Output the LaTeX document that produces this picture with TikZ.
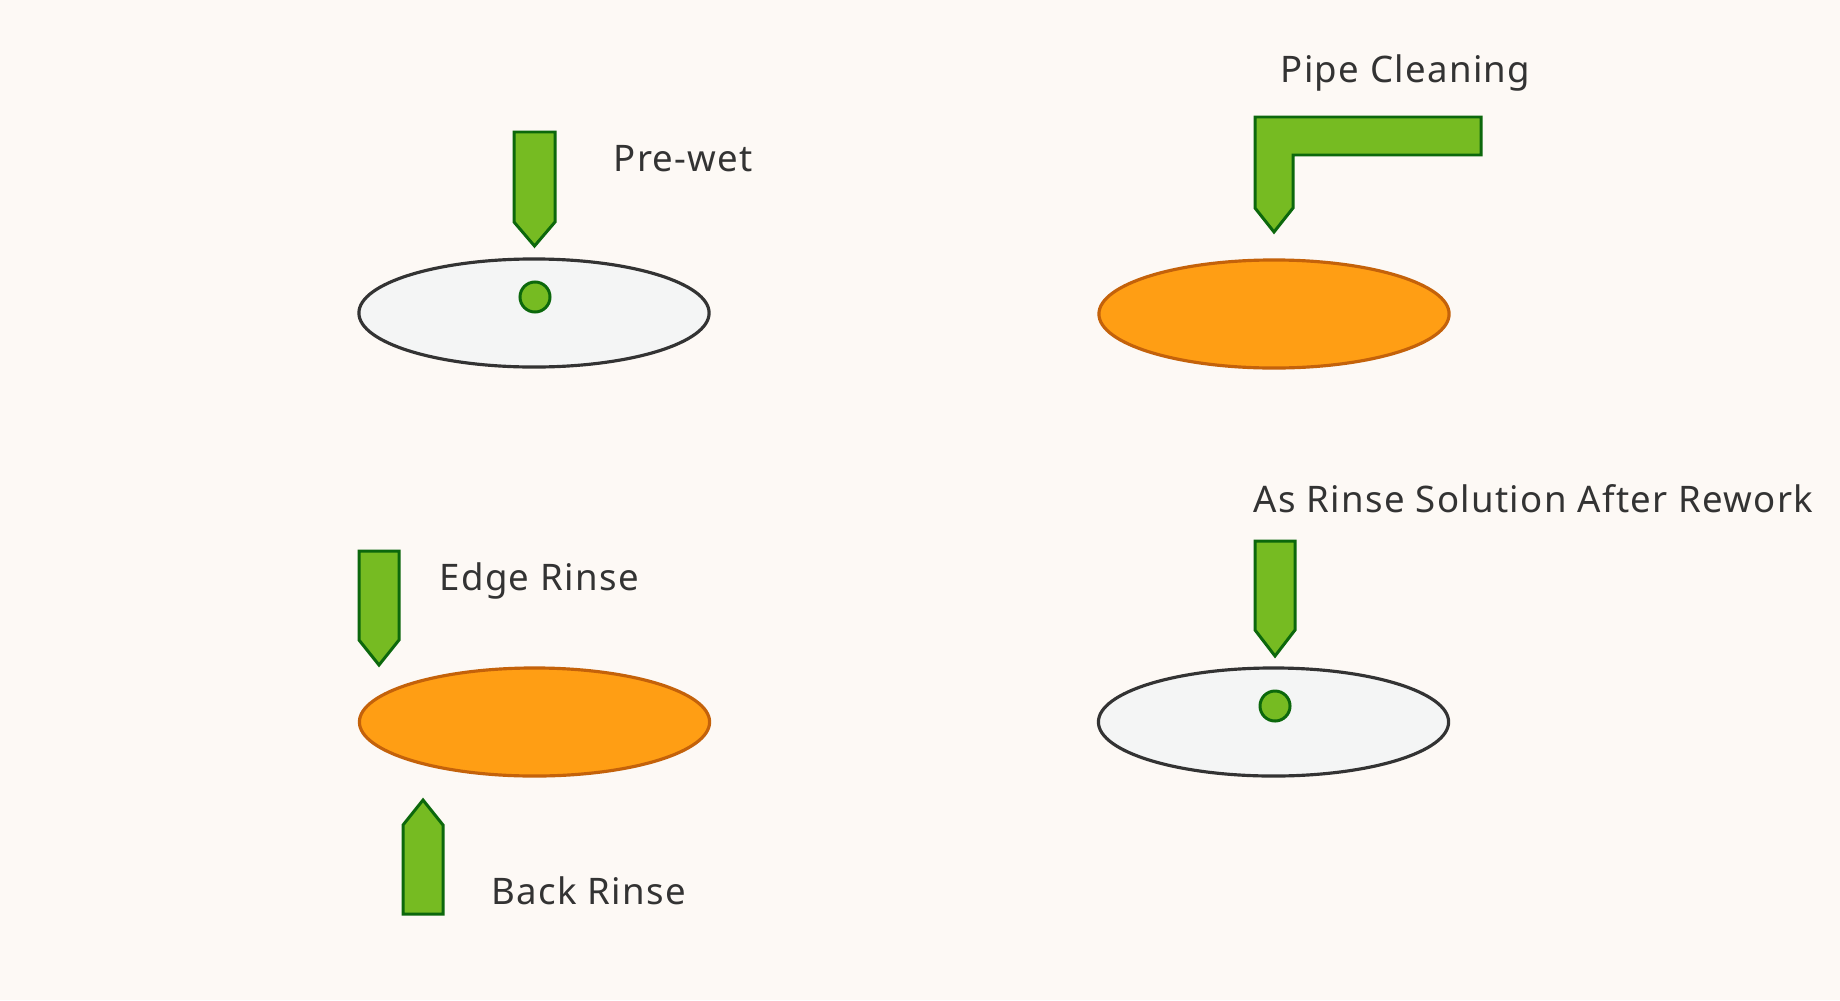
\documentclass[tikz,border=0pt]{standalone}
\usepackage{fontspec}
\setmainfont{Noto Sans}[LetterSpace=3.6]
\usetikzlibrary{shapes.geometric}
\definecolor{bg}{RGB}{253,249,245}
\definecolor{gfill}{RGB}{118,187,34}
\definecolor{gline}{RGB}{12,104,12}
\definecolor{ofill}{RGB}{255,158,20}
\definecolor{oline}{RGB}{196,98,10}
\definecolor{wfill}{RGB}{244,245,245}
\definecolor{wline}{RGB}{51,51,51}
\definecolor{txt}{RGB}{51,51,51}
\tikzset{
  nozzle/.style={fill=gfill,draw=gline,line width=0.85pt,line join=miter},
  wafergray/.style={ellipse,draw=wline,fill=wfill,line width=0.9pt,minimum width=3.5cm,minimum height=1.08cm,inner sep=0pt},
  waferorange/.style={ellipse,draw=oline,fill=ofill,line width=0.9pt,minimum width=3.5cm,minimum height=1.08cm,inner sep=0pt},
  drop/.style={circle,fill=gfill,draw=gline,line width=0.85pt,minimum size=0.3cm,inner sep=0pt},
  lbl/.style={anchor=base west,text=txt,inner sep=0pt,font=\fontsize{10.4pt}{12pt}\selectfont}
}
\begin{document}
\begin{tikzpicture}[x=0.01cm,y=-0.01cm]
\path[fill=bg] (0,0) rectangle (1840,1000);
% Pre-wet
\node[wafergray] (w1) at (534,313) {};
\node[drop] (d1) at (535,297) {};
\draw[nozzle] (514,132) -- (555,132) -- (555,222) -- (534.5,246) -- (514,222) -- cycle;
\node[lbl] (t1) at (613,171) {Pre-wet};
% Pipe cleaning
\node[waferorange] (w2) at (1274,314) {};
\draw[nozzle] (1255,117) -- (1481,117) -- (1481,155) -- (1293,155) -- (1293,208) -- (1274,232) -- (1255,208) -- cycle;
\node[lbl] (t2) at (1280,82) {Pipe Cleaning};
% Edge / back rinse
\node[waferorange] (w3) at (534.5,722) {};
\draw[nozzle] (359,551) -- (399,551) -- (399,640) -- (379,665) -- (359,640) -- cycle;
\draw[nozzle] (423,800) -- (443,825) -- (443,914) -- (403,914) -- (403,825) -- cycle;
\node[lbl] (t3) at (439,590) {Edge Rinse};
\node[lbl] (t4) at (491,904) {Back Rinse};
% As rinse solution
\node[wafergray] (w4) at (1273.5,722) {};
\node[drop] (d4) at (1275,706) {};
\draw[nozzle] (1255,541) -- (1295,541) -- (1295,630) -- (1275,656) -- (1255,630) -- cycle;
\node[lbl] (t5) at (1253,512) {As Rinse Solution After Rework};
\end{tikzpicture}
\end{document}
